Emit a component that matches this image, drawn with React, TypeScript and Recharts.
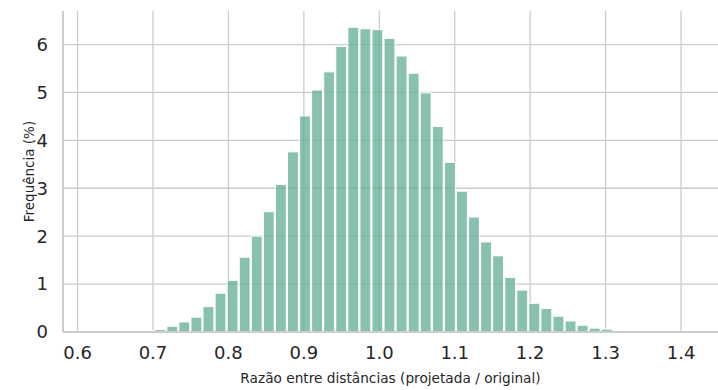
import React from "react";
import { BarChart, Bar, XAxis, YAxis, CartesianGrid } from "recharts";

// bin centres (bin width 0.016)
const binCenters = [
  0.629, 0.645, 0.661, 0.677, 0.693, 0.709, 0.725, 0.741, 0.757, 0.773,
  0.789, 0.805, 0.821, 0.837, 0.853, 0.869, 0.885, 0.901, 0.917, 0.933,
  0.949, 0.965, 0.981, 0.997, 1.013, 1.029, 1.045, 1.061, 1.077, 1.093,
  1.109, 1.125, 1.141, 1.157, 1.173, 1.189, 1.205, 1.221, 1.237, 1.253,
  1.269, 1.285, 1.301, 1.317, 1.333, 1.349, 1.365, 1.381, 1.397,
];

// frequência (%) por bin
const frequencies = [
  0.004, 0.006, 0.01, 0.02, 0.03, 0.05, 0.12, 0.21, 0.31, 0.53,
  0.81, 1.08, 1.56, 2.0, 2.51, 3.08, 3.76, 4.51, 5.05, 5.43,
  5.96, 6.36, 6.33, 6.31, 6.13, 5.76, 5.4, 4.99, 4.29, 3.54,
  2.94, 2.4, 1.88, 1.59, 1.14, 0.875, 0.6, 0.49, 0.33, 0.23,
  0.14, 0.08, 0.06, 0.03, 0.01, 0.006, 0.004, 0.002, 0.002,
];

const xTicks = [0.6, 0.7, 0.8, 0.9, 1.0, 1.1, 1.2, 1.3, 1.4];
const yTicks = [0, 1, 2, 3, 4, 5, 6];

const data = binCenters.map((x, i) => ({ x, freq: frequencies[i] }));

const FONT = "'DejaVu Sans', sans-serif";
const GRID = "#cccccc";

const App = () => {
  return (
    <>
      {/* full-bleed: chart fills the whole 718x390 window */}
      <style>{"body{margin:0;overflow:hidden}"}</style>
      <BarChart
        width={718}
        height={390}
        data={data}
        margin={{ top: 11, right: 0, bottom: 0, left: 0 }}
        barCategoryGap={0}
        barGap={0}
      >
        <CartesianGrid stroke={GRID} strokeWidth={1.3} syncWithTicks />
        <XAxis
          dataKey="x"
          type="number"
          domain={[0.5807, 1.449]}
          ticks={xTicks}
          tickFormatter={(v: number) => v.toFixed(1)}
          allowDataOverflow
          height={58}
          axisLine={{ stroke: GRID, strokeWidth: 2 }}
          tickLine={false}
          tickSize={0}
          tickMargin={14}
          tick={{ fill: "#262626", fontSize: 18, fontFamily: FONT }}
          label={{
            value: "Razão entre distâncias (projetada / original)",
            position: "insideBottom",
            offset: 7,
            fill: "#262626",
            fontSize: 13.7,
            fontFamily: FONT,
          }}
        />
        <XAxis
          xAxisId="top"
          orientation="top"
          dataKey="x"
          type="number"
          domain={[0.5807, 1.449]}
          height={0}
          tick={false}
          tickLine={false}
          axisLine={{ stroke: GRID, strokeWidth: 2 }}
        />
        <YAxis
          type="number"
          domain={[0, 6.7]}
          ticks={yTicks}
          allowDataOverflow
          width={63}
          axisLine={{ stroke: GRID, strokeWidth: 2 }}
          tickLine={false}
          tickSize={0}
          tickMargin={15}
          tick={{ fill: "#262626", fontSize: 18, fontFamily: FONT }}
          label={{
            value: "Frequência (%)",
            angle: -90,
            position: "insideLeft",
            offset: 29,
            fill: "#262626",
            fontSize: 13.5,
            fontFamily: FONT,
            style: { textAnchor: "middle" },
          }}
        />
        <Bar
          dataKey="freq"
          fill="#60ac96"
          fillOpacity={0.75}
          stroke="#ffffff"
          strokeWidth={1}
          barSize={12.07}
          isAnimationActive={false}
        />
      </BarChart>
    </>
  );
};

export default App;
